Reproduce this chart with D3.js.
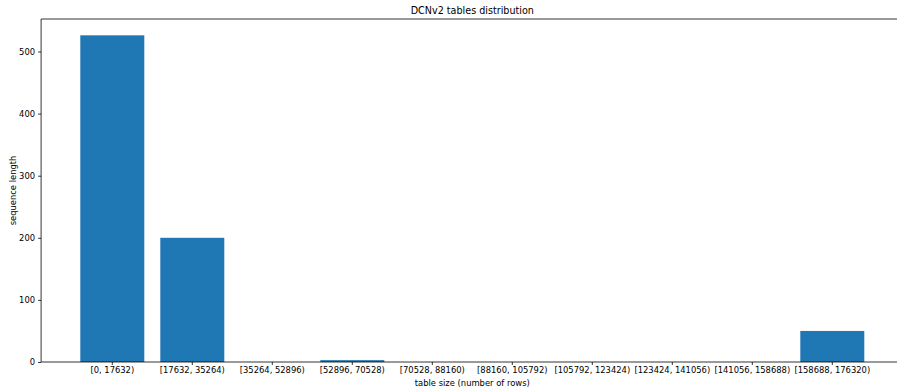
<!DOCTYPE html>
<html>
<head>
<meta charset="utf-8">
<script src="https://cdn.jsdelivr.net/npm/d3@7"></script>
<style>
  html, body { margin: 0; padding: 0; background: #fff; }
  svg { display: block; font-family: "DejaVu Sans", sans-serif; }
</style>
</head>
<body>
<svg id="chart" width="897" height="390"></svg>
<script>
// Bin labels (table size ranges) and number of tables in each bin
const categories = [
  "[0, 17632)", "[17632, 35264)", "[35264, 52896)", "[52896, 70528)",
  "[70528, 88160)", "[88160, 105792)", "[105792, 123424)",
  "[123424, 141056)", "[141056, 158688)", "[158688, 176320)"
];
const counts = [526, 200, 0, 3, 0, 0, 0, 0, 0, 50];
const yTicks = [0, 100, 200, 300, 400, 500];

const title = "DCNv2 tables distribution";
const xLabel = "table size (number of rows)";
const yLabel = "sequence length";

const svg = d3.select("#chart");
const plot = { left: 41.1, right: 903.5, top: 19, bottom: 362 };

const x = d3.scaleBand()
  .domain(categories)
  .range([plot.left, plot.right])
  .paddingInner(0.2)
  .paddingOuter(0.49);

const y = d3.scaleLinear()
  .domain([0, d3.max(counts) * 1.05])
  .range([plot.bottom, plot.top]);

// bars
svg.append("g")
  .selectAll("rect")
  .data(counts)
  .join("rect")
  .attr("x", (d, i) => x(categories[i]))
  .attr("y", d => y(d))
  .attr("width", x.bandwidth())
  .attr("height", d => y(0) - y(d))
  .attr("fill", "#1f77b4");

// spines
const spine = svg.append("g").attr("stroke", "#000").attr("stroke-width", 0.8).attr("fill", "none");
spine.append("line").attr("x1", plot.left).attr("x2", plot.left).attr("y1", plot.top).attr("y2", plot.bottom);
spine.append("line").attr("x1", plot.left).attr("x2", plot.right).attr("y1", plot.bottom).attr("y2", plot.bottom);
spine.append("line").attr("x1", plot.left).attr("x2", plot.right).attr("y1", plot.top).attr("y2", plot.top);
spine.append("line").attr("x1", plot.right).attr("x2", plot.right).attr("y1", plot.top).attr("y2", plot.bottom);

// x axis
const xAxis = svg.append("g")
  .attr("transform", `translate(0,${plot.bottom})`)
  .call(d3.axisBottom(x).tickSize(3).tickPadding(2.5).tickSizeOuter(0));
xAxis.select(".domain").remove();
xAxis.selectAll("line").attr("stroke", "#000").attr("stroke-width", 0.8);
xAxis.selectAll("text").attr("fill", "#000").attr("font-size", "8.4px")
  .attr("font-family", "DejaVu Sans, sans-serif");

// y axis
const yAxis = svg.append("g")
  .attr("transform", `translate(${plot.left},0)`)
  .call(d3.axisLeft(y).tickValues(yTicks).tickFormat(d3.format("d")).tickSize(3).tickPadding(3).tickSizeOuter(0));
yAxis.select(".domain").remove();
yAxis.selectAll("line").attr("stroke", "#000").attr("stroke-width", 0.8);
yAxis.selectAll("text").attr("fill", "#000").attr("font-size", "8.4px")
  .attr("font-family", "DejaVu Sans, sans-serif");

// title and axis labels
const cx = (plot.left + plot.right) / 2;
svg.append("text")
  .attr("x", cx).attr("y", 13.5)
  .attr("text-anchor", "middle")
  .attr("font-size", "9.6px")
  .attr("fill", "#000")
  .text(title);

svg.append("text")
  .attr("x", cx).attr("y", 385.5)
  .attr("text-anchor", "middle")
  .attr("font-size", "8.4px")
  .attr("fill", "#000")
  .text(xLabel);

svg.append("text")
  .attr("transform", `translate(16.3,${(plot.top + plot.bottom) / 2}) rotate(-90)`)
  .attr("text-anchor", "middle")
  .attr("font-size", "8.4px")
  .attr("fill", "#000")
  .text(yLabel);
</script>
</body>
</html>
